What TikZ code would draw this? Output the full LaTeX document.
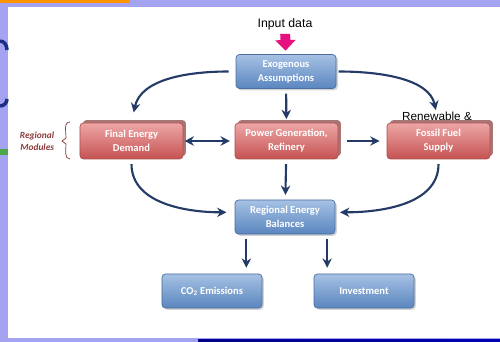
\documentclass[tikz,border=0pt]{standalone}
\usepackage{fontspec}
\setmainfont{Carlito}
\newfontfamily\arialfont{Liberation Sans}
\usetikzlibrary{arrows.meta,shadows}

\definecolor{navy}{HTML}{233B66}
\definecolor{bluetop}{HTML}{A6C1E4}
\definecolor{bluebot}{HTML}{5A86BF}
\definecolor{blueline}{HTML}{4A6E9F}
\definecolor{redtop}{HTML}{EDA6A6}
\definecolor{redbot}{HTML}{C65252}
\definecolor{redline}{HTML}{B04E4E}
\definecolor{redshade}{HTML}{A87575}
\definecolor{modred}{HTML}{8E3B3B}
\definecolor{lavender}{HTML}{A3A3F2}
\definecolor{magentapink}{HTML}{E5117F}

\tikzset{
  bluebox/.style={rounded corners=3pt, draw=blueline, line width=0.6pt,
    top color=bluetop, bottom color=bluebot, text=white,
    minimum width=3cm, minimum height=1.02cm, align=center,
    font=\fontsize{9}{12}\selectfont\bfseries,
    drop shadow={shadow xshift=1.5pt, shadow yshift=-1.5pt, opacity=0.35}},
  redbox/.style={rounded corners=3pt, draw=redline, line width=0.6pt,
    top color=redtop, bottom color=redbot, text=white,
    minimum width=3.09cm, minimum height=1.08cm, align=center,
    font=\fontsize{9}{12}\selectfont\bfseries,
    copy shadow={shadow xshift=2.5pt, shadow yshift=2.5pt, fill=redshade, draw=none}},
  flow/.style={draw=navy, line width=1.8pt, -{Stealth[length=8pt,width=8pt]}},
  flowboth/.style={draw=navy, line width=1.8pt, {Stealth[length=8pt,width=8pt]}-{Stealth[length=8pt,width=8pt]}},
}

\begin{document}
\begin{tikzpicture}[x=0.03cm,y=-0.03cm]
  \useasboundingbox (0,0) rectangle (500,342);

  % --- slide frame ---
  \fill[white] (0,0) rectangle (500,342);
  \fill[lavender] (0,0) rectangle (8,342);
  \fill[lavender] (0,0) rectangle (500,7);
  \fill[lavender] (0,338) rectangle (500,342);
  \fill[orange!85!yellow] (0,0) rectangle (130,3);
  \fill[left color=blue!55!black, right color=blue!70!black] (198,339) rectangle (500,342);
  \draw[navy!80!blue, line width=3pt] (0,41) to[out=0,in=90] (7,50);
  \draw[navy!80!blue, line width=3pt] (7,99) to[out=-90,in=0] (0,106);
  \fill[green!50!black!70] (0,149) rectangle (8,155);

  % --- boxes ---
  \node[bluebox] (exo) at (286,71.5) {Exogenous\\Assumptions};
  \node[redbox]  (fed) at (131.5,141) {Final Energy\\Demand};
  \node[redbox]  (pgr) at (286.5,141) {Power Generation,\\Refinery};
  \node[redbox]  (ffs) at (438.5,141) {Fossil Fuel\\Supply};
  \node[bluebox] (reb) at (285,217) {Regional Energy\\Balances};
  \node[bluebox] (co2) at (212,291) {CO\textsubscript{2} Emissions};
  \node[bluebox] (inv) at (364,291) {Investment};

  % --- plain labels ---
  \node[font=\arialfont\fontsize{10.5}{12}\selectfont] (input) at (285,24) {Input data};
  \node[font=\arialfont\fontsize{10}{12}\selectfont] (renew) at (437,116) {Renewable \&};
  \node[font=\fontsize{8}{10}\selectfont\bfseries\itshape, text=modred, align=right] (modules) at (37,141) {Regional\\Modules};
  \draw[modred, line width=0.6pt] (70,122) to[out=180,in=90] (66,138) -- (62,141) -- (66,144) to[out=-90,in=180] (70,159);

  % --- connectors ---
  \draw[draw=magentapink, line width=8.5pt, -{Triangle[length=9pt,width=17pt]}, shorten >=3] (input) -- (exo);
  \draw[flow, shorten <=6, shorten >=9] (exo.west) to[out=180,in=78] (fed.north);
  \draw[flow, shorten <=2, shorten >=11] (exo.east) to[out=0,in=102] (ffs.north);
  \draw[flow, shorten <=4, shorten >=3] (exo) -- (pgr);
  \draw[flowboth, shorten <=1, shorten >=4] (fed) -- (pgr);
  \draw[flow, shorten <=7, shorten >=6] (pgr) -- (ffs);
  \draw[flow, shorten <=4, shorten >=4] (pgr) -- (reb);
  \draw[flow, shorten <=4, shorten >=7] (fed.south) to[out=-90,in=180] ([yshift=4pt]reb.west);
  \draw[flow, shorten <=4, shorten >=4] (ffs.south) to[out=-90,in=0] ([yshift=4pt]reb.east);
  \draw[flow, shorten <=4, shorten >=5] ([xshift=-33pt]reb.south) -- ([xshift=-33pt]reb.south |- co2.north);
  \draw[flow, shorten <=4, shorten >=5] ([xshift=36pt]reb.south) -- ([xshift=36pt]reb.south |- inv.north);
\end{tikzpicture}
\end{document}
